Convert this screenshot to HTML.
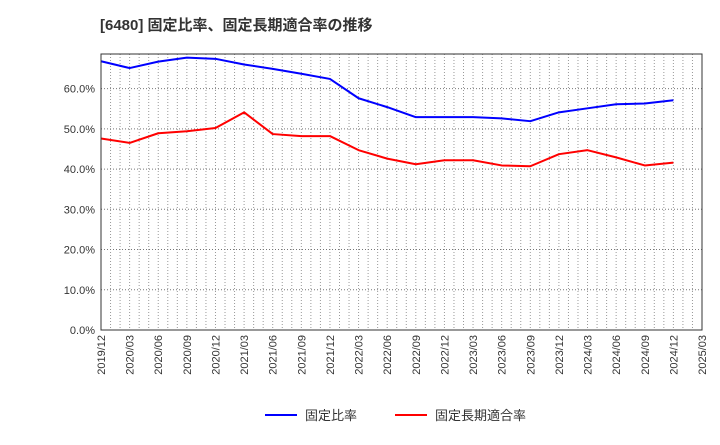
<!DOCTYPE html>
<html><head><meta charset="utf-8"><style>
body{margin:0;background:#fff;font-family:"Liberation Sans","Noto Sans CJK JP",sans-serif;}
svg text{font-family:"Liberation Sans","Noto Sans CJK JP",sans-serif;}
</style></head><body>
<svg id="chart" width="720" height="440" xmlns="http://www.w3.org/2000/svg">
<text x="100" y="30" font-size="15" font-weight="bold" fill="#333">[6480]  固定比率、固定長期適合率の推移</text>
<g id="grid"></g><g id="series"></g><g id="axes"></g>
<g>
<line x1="265" y1="415" x2="297" y2="415" stroke="#0000ff" stroke-width="2"/>
<text x="305" y="420" font-size="13" fill="#333">固定比率</text>
<line x1="395" y1="415" x2="427" y2="415" stroke="#ff0000" stroke-width="2"/>
<text x="435" y="420" font-size="13" fill="#333">固定長期適合率</text>
</g>
</svg>
<script>
const categories=["2019/12","2020/03","2020/06","2020/09","2020/12","2021/03","2021/06","2021/09","2021/12","2022/03","2022/06","2022/09","2022/12","2023/03","2023/06","2023/09","2023/12","2024/03","2024/06","2024/09","2024/12","2025/03"];
const fixedRatio=[66.8,65.1,66.7,67.7,67.4,66.0,64.9,63.7,62.4,57.6,55.4,52.9,52.9,52.9,52.6,51.9,54.1,55.1,56.1,56.3,57.1];
const fixedLongTermRatio=[47.6,46.5,48.9,49.4,50.2,54.1,48.7,48.2,48.2,44.7,42.6,41.2,42.2,42.2,40.9,40.7,43.7,44.7,42.9,40.9,41.6];
const yTicks=[0,10,20,30,40,50,60];
const L=101,R=702,T=54,B=330,YMAX=68.6;
const NS="http://www.w3.org/2000/svg";
const xs=i=>L+(R-L)*i/(categories.length-1);
const ys=v=>B-(B-T)*v/YMAX;
function mk(tag,attrs,parent){const e=document.createElementNS(NS,tag);for(const k in attrs)e.setAttribute(k,attrs[k]);parent.appendChild(e);return e;}
const grid=document.getElementById('grid'),axes=document.getElementById('axes'),ser=document.getElementById('series');
const months=(categories.length-1)*3;
for(let m=1;m<months;m++){const x=L+(R-L)*m/months;const l=mk('line',{x1:x,y1:T,x2:x,y2:B,stroke:'#999','stroke-dasharray':'1,2','stroke-width':1},grid);

}
yTicks.forEach(v=>{const y=ys(v);
if(v>0){const g=mk('line',{x1:L,y1:y,x2:R,y2:y,stroke:'#777','stroke-dasharray':'1,2','stroke-width':1},grid);

}
const t=mk('text',{x:L-6,y:y+4,'text-anchor':'end','font-size':11,fill:'#333'},axes);t.textContent=v.toFixed(1)+'%';

});
const fr=mk('rect',{x:L,y:T,width:R-L,height:B-T,fill:'none',stroke:'#333','stroke-width':1},axes);


categories.forEach((c,i)=>{const x=xs(i)+4;const t=mk('text',{x:x,y:B+5,'text-anchor':'end','font-size':11,fill:'#333',transform:`rotate(-90 ${x} ${B+5})`},axes);t.textContent=c;

});
function line(data,color,name){const p=mk('polyline',{points:data.map((v,i)=>xs(i)+','+ys(v)).join(' '),fill:'none',stroke:color,'stroke-width':2,'stroke-linejoin':'round'},ser);

}
line(fixedRatio,'#0000ff','fixed-ratio-line');
line(fixedLongTermRatio,'#ff0000','fixed-long-term-ratio-line');
</script>
</body></html>
